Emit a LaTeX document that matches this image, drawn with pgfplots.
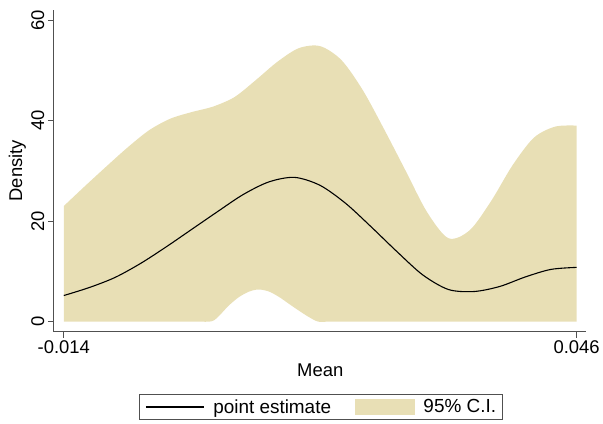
\documentclass[border=0pt]{standalone}
\usepackage{fontspec}
\setmainfont{Liberation Sans}
\usepackage{pgfplots}
\pgfplotsset{compat=1.18}
\usepgfplotslibrary{fillbetween}

\definecolor{cifill}{RGB}{232,223,181}
\definecolor{axgray}{RGB}{80,80,80}

\begin{document}
\begin{tikzpicture}
\begin{axis}[
    at={(54pt,92pt)}, anchor=south west,
    scale only axis,
    width=534pt, height=323pt,
    xmin=-0.01517, xmax=0.04705,
    ymin=-1.98, ymax=62,
    scaled x ticks=false,
    axis lines*=left,
    axis line style={axgray, line width=0.8pt},
    tick align=outside,
    major tick length=6pt,
    major tick style={axgray, line width=0.8pt},
    font=\fontsize{18.5}{22}\selectfont,
    /pgf/number format/assume math mode=true,
    xtick={-0.014,0.046},
    xticklabels={-0.014,0.046},
    ytick={0,20,40,60},
    yticklabels={0,20,40,60},
    yticklabel style={rotate=90, anchor=south},
    xlabel={Mean},
    ylabel={Density},
    xlabel style={at={(axis description cs:0.501,-0.119)}, anchor=center},
    ylabel style={at={(axis description cs:-0.0683,0.5)}, anchor=center},
    legend columns=2,
    legend style={
        at={(axis description cs:0.502,-0.2755)}, anchor=south,
        draw=axgray, line width=0.8pt,
        font=\fontsize{19}{22}\selectfont,
        inner xsep=6pt, inner ysep=5pt,
        /tikz/every odd column/.append style={column sep=9pt},
        /tikz/every even column/.append style={column sep=24pt},
        nodes={inner sep=0pt, anchor=west},
    },
]
% upper bound of the 95% band
\addplot[name path=upper, draw=none, smooth, forget plot] coordinates {
    (-0.0140, 23.0)
    (-0.0115, 27.0)
    (-0.0090, 30.9)
    (-0.0065, 34.7)
    (-0.0040, 38.1)
    (-0.0015, 40.4)
    (0.0010, 41.7)
    (0.0035, 42.8)
    (0.0060, 44.7)
    (0.0085, 48.1)
    (0.0110, 51.7)
    (0.0135, 54.4)
    (0.0160, 54.8)
    (0.0185, 52.0)
    (0.0210, 46.0)
    (0.0235, 38.2)
    (0.0260, 30.0)
    (0.0285, 21.8)
    (0.0310, 16.6)
    (0.0335, 18.2)
    (0.0360, 24.0)
    (0.0385, 31.1)
    (0.0410, 36.6)
    (0.0435, 38.8)
    (0.0460, 39.0)
};
% lower bound of the 95% band
\addplot[name path=lower, draw=none, smooth, forget plot] coordinates {
    (-0.0140, 0)
    (-0.0050, 0)
    (0.0015, 0)
    (0.0030, 0)
    (0.0036, 0.3)
    (0.0042, 1.2)
    (0.0053, 3.2)
    (0.0065, 4.9)
    (0.0077, 6.0)
    (0.0088, 6.4)
    (0.0100, 6.0)
    (0.0112, 4.9)
    (0.0123, 3.6)
    (0.0135, 2.2)
    (0.0147, 0.9)
    (0.0158, 0)
    (0.0175, 0)
    (0.0300, 0)
    (0.0460, 0)
};
\addplot[fill=cifill, draw=none, forget plot] fill between[of=upper and lower];

% point estimate
\addplot[black, line width=1.1pt, smooth, forget plot] coordinates {
    (-0.0140, 5.2)
    (-0.0110, 6.8)
    (-0.0080, 8.8)
    (-0.0050, 11.6)
    (-0.0020, 14.9)
    (0.0010, 18.4)
    (0.0040, 21.9)
    (0.0070, 25.3)
    (0.0100, 27.8)
    (0.0130, 28.7)
    (0.0160, 27.1)
    (0.0190, 23.5)
    (0.0220, 18.8)
    (0.0250, 13.9)
    (0.0280, 9.3)
    (0.0310, 6.4)
    (0.0340, 6.0)
    (0.0370, 7.0)
    (0.0400, 8.9)
    (0.0430, 10.4)
    (0.0460, 10.8)
};

\addlegendimage{legend image code/.code={\draw[black, line width=1.1pt] (0pt,0pt) -- (58pt,0pt);}}
\addlegendentry{point estimate}
\addlegendimage{legend image code/.code={\fill[cifill] (0pt,-7.5pt) rectangle (59pt,7.5pt);}}
\addlegendentry{95\% C.I.}
\end{axis}
\path (0,0) rectangle (603pt,425pt);
\end{tikzpicture}
\end{document}
